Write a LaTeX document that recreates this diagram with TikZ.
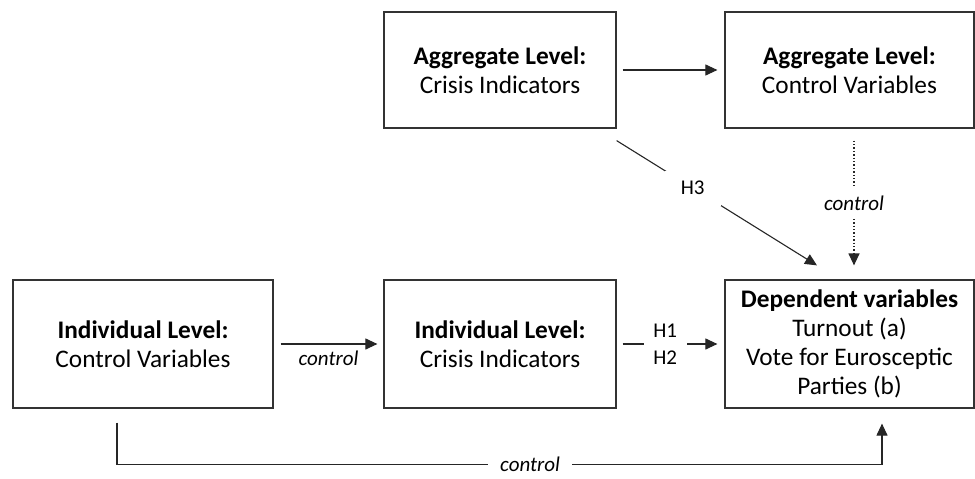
\documentclass[tikz,border=0pt]{standalone}
\usepackage{fontspec}
\setmainfont{Carlito}
\usetikzlibrary{arrows.meta}
\tikzset{
  box/.style={draw=black!80, line width=1.2pt, align=center, inner sep=0pt,
    font=\fontsize{25.3}{29}\selectfont},
  tip/.style={-{Triangle[length=12pt,width=11pt]}},
  arr/.style={draw=black!85, line width=1.1pt, tip},
  lbl/.style={fill=white, font=\fontsize{21}{24}\selectfont, inner sep=0pt},
  dotline/.style={draw=black!85, line width=1.2pt, dash pattern=on 1.4pt off 2pt}
}
\begin{document}
\begin{tikzpicture}[x=1pt,y=-1pt]
\useasboundingbox (0,0) rectangle (975,479);
\node[box, minimum width=232pt, minimum height=116pt] (A) at (500,70)
  {\textbf{Aggregate Level:}\\Crisis Indicators};
\node[box, minimum width=249pt, minimum height=116pt] (B) at (849.5,70)
  {\textbf{Aggregate Level:}\\Control Variables};
\node[box, minimum width=260pt, minimum height=128pt] (C) at (143,344)
  {\textbf{Individual Level:}\\Control Variables};
\node[box, minimum width=232pt, minimum height=128pt] (D) at (500,344)
  {\textbf{Individual Level:}\\Crisis Indicators};
\node[box, minimum width=249pt, minimum height=128pt] (E) at (849.5,344)
  {\textbf{Dependent variables}\\Turnout (a)\\Vote for Eurosceptic\\Parties (b)};
% A -> B
\draw[arr, shorten <=6pt, shorten >=7pt] (A) -- (B);
% C -> D
\draw[arr, shorten <=7pt, shorten >=6pt] (C) -- node[below=6pt, lbl, fill=none]{\itshape control} (D);
% D -> E
\draw[arr, shorten <=6pt, shorten >=7pt] (D) -- node[pos=0.45, lbl, minimum width=43pt, align=center,
  font=\fontsize{21}{27}\selectfont]{H1\\H2} (E);
% H3
\coordinate (h3s) at ([yshift=-12pt]A.south east);
\coordinate (h3e) at ([xshift=-32.5pt,yshift=14pt]E.north);
\draw[arr] (h3s) -- node[pos=0.38, lbl, minimum width=56pt, minimum height=35pt]{H3} (h3e);
% dotted control
\coordinate (cs) at ([xshift=4.5pt,yshift=-12pt]B.south);
\coordinate (ce) at ([xshift=4.5pt,yshift=14pt]E.north);
\draw[dotline, tip] (cs) -- node[lbl, minimum height=30pt]{\itshape control} (ce);
% bottom control
\coordinate (bs) at ([xshift=-26pt,yshift=-14pt]C.south);
\coordinate (be) at ([xshift=32.5pt,yshift=-15pt]E.south);
\draw[arr] (bs) -- ++(0,42) -| node[pos=0.27, lbl, minimum width=84pt]{\itshape control} (be);
\end{tikzpicture}
\end{document}
